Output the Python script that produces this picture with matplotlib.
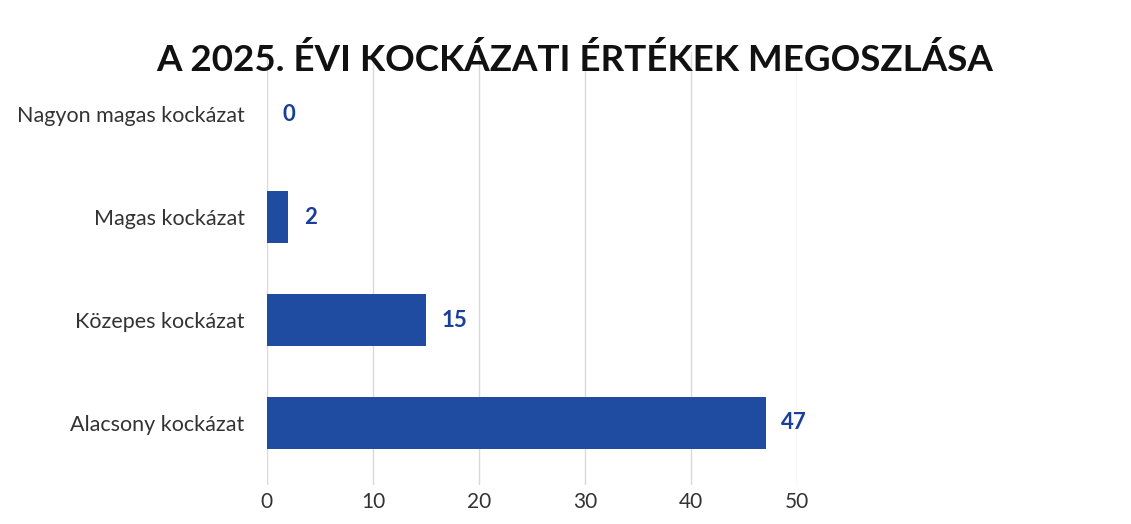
import matplotlib.pyplot as plt

# Kockázati kategóriák és darabszámok
categories = ['Alacsony kockázat', 'Közepes kockázat', 'Magas kockázat', 'Nagyon magas kockázat']
values = [47, 15, 2, 0]
xticks = [0, 10, 20, 30, 40, 50]

plt.rcParams['font.family'] = ['Lato', 'DejaVu Sans']

fig = plt.figure(figsize=(11.31, 5.24), dpi=100)
ax = fig.add_axes([0.236, 0.075, 0.469, 0.825])

ax.barh(categories, values, height=0.5, color='#1f4ba0')
for i, v in enumerate(values):
    ax.text(v + 1.5, i, str(v), va='center', ha='left',
            fontsize=16, fontweight='bold', color='#1a3f9a')

ax.set_xlim(0, 50)
ax.set_ylim(-0.6, 3.6)
ax.set_xticks(xticks)
ax.grid(axis='x', color='#d9d9d9', linewidth=1)
ax.set_axisbelow(True)
for s in ax.spines.values():
    s.set_visible(False)
ax.tick_params(axis='both', length=0, labelsize=15.5, labelcolor='#333333')
ax.tick_params(axis='x', pad=5, labelsize=15)
ax.tick_params(axis='y', pad=16)

fig.text(0.508, 0.885, 'A 2025. ÉVI KOCKÁZATI ÉRTÉKEK MEGOSZLÁSA', ha='center', va='center',
         fontsize=26.5, fontweight='bold', color='#111111')

fig.savefig('out.png', dpi=100)
